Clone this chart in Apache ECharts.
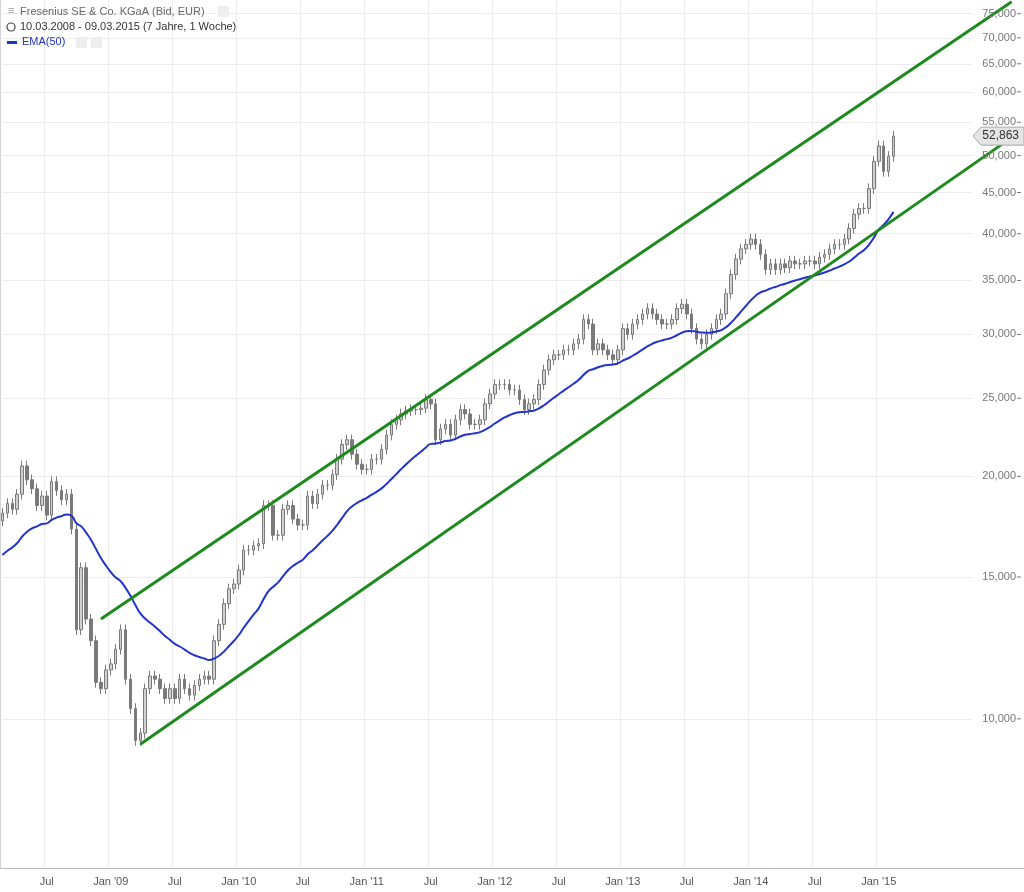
<!DOCTYPE html>
<html>
<head>
<meta charset="utf-8">
<script src="https://cdn.jsdelivr.net/npm/echarts@6/dist/echarts.min.js"></script>
<style>
html,body{margin:0;padding:0;background:#fff;}
#chart{width:1024px;height:892px;}
</style>
</head>
<body>
<div id="chart"></div>
<script>
// biweekly closes, starting 10.03.2008
var closes = [
	18.0,18.5,18.2,19.0,20.6,19.8,19.3,18.4,18.9,17.9,19.7,19.2,18.7,19.0,17.2,12.9,15.4,13.3,12.5,11.1,
	10.9,11.5,11.7,12.2,12.9,11.2,10.3,9.4,9.6,10.9,11.3,11.2,10.9,10.6,10.9,10.6,11.2,10.9,10.7,11.0,
	11.2,11.3,11.2,12.5,13.1,13.9,14.5,14.7,15.3,16.2,16.2,16.4,16.5,18.4,18.4,16.9,16.9,18.2,18.4,17.7,
	17.4,17.4,18.9,18.5,19.0,19.5,19.5,20.1,21.0,21.9,22.2,21.3,20.7,20.4,20.4,21.0,21.0,21.6,22.5,23.2,
	23.5,23.9,24.1,24.2,24.2,24.3,24.9,24.6,22.2,22.9,23.2,22.5,23.5,24.2,23.9,23.2,23.2,23.5,24.6,25.3,
	26.0,26.0,26.0,25.6,25.6,24.9,24.2,24.6,24.9,26.0,27.1,27.9,28.3,28.3,28.7,28.7,29.2,29.6,31.3,30.9,
	28.7,29.2,28.7,28.3,27.9,28.7,30.5,30.0,30.9,31.3,31.8,32.3,31.8,31.3,30.9,30.9,31.3,32.3,32.7,31.8,
	30.5,29.6,29.2,30.0,30.5,31.3,31.8,33.7,35.6,37.2,38.3,38.8,39.4,38.8,37.7,36.1,36.7,36.1,36.7,36.3,
	37.0,36.7,36.7,37.0,37.0,36.7,37.4,37.7,38.3,38.8,38.8,39.4,40.6,42.3,43.0,43.0,45.5,49.2,51.4,47.8,
	49.9,52.863
];
var firstOpen = 17.6;
var emaSeed = 15.8;
var emaPeriod = 25; // 50 weeks = 25 biweekly bars
var priceLevels = [10,15,20,25,30,35,40,45,50,55,60,65,70,75];
var upperChannel = [[20,13.3],[205,77.6]];
var lowerChannel = [[28,9.3],[207,53.7]];
var slotCount = 208;
var lastLabelSlot = 190;
var lastPrice = 52.863;

var startDate = new Date(2008, 2, 10);
var dates = [];
for (var i = 0; i < slotCount; i++) {
	dates.push(new Date(startDate.getTime() + i * 14 * 86400000));
}
// first slot of each Jan / Jul
var labelSlots = {};
for (var i = 1; i <= lastLabelSlot; i++) {
	var m = dates[i].getMonth(), pm = dates[i-1].getMonth();
	if ((m == 0 && pm == 11) || (m == 6 && pm == 5)) {
		labelSlots[i] = m == 0 ? "Jan '" + String(dates[i].getFullYear()).slice(2) : 'Jul';
	}
}
var cats = dates.map(function(d, i){ return String(i); });

var candles = [];
var ema = [];
var prev = firstOpen, e = emaSeed, k = 2 / (emaPeriod + 1);
for (var i = 0; i < closes.length; i++) {
	var o = prev, c = closes[i];
	candles.push([o, c, Math.min(o, c) * 0.985, Math.max(o, c) * 1.015]);
	e = c * k + e * (1 - k);
	ema.push(+e.toFixed(3));
	prev = c;
}

function fmt(v){ return v.toFixed(3).replace('.', ','); }

var gridLines = priceLevels.map(function(v){
	return [{coord:[0, v]}, {coord:[197, v]}];
});

var chart = echarts.init(document.getElementById('chart'));
var option = {
	animation:false,
	grid:{left:0, right:0, top:0, bottom:24},
	xAxis:{
		type:'category',
		data:cats,
		boundaryGap:true,
		axisLine:{show:true, lineStyle:{color:'#bbb'}},
		axisTick:{show:false},
		axisLabel:{
			interval:function(i){ return labelSlots[i] !== undefined; },
			formatter:function(v, i){ return labelSlots[i] || ''; },
			color:'#555', fontFamily:'Liberation Sans', fontSize:11, margin:8
		},
		splitLine:{show:true, interval:function(i){ return labelSlots[i] !== undefined; }, lineStyle:{color:'#ececec'}}
	},
	yAxis:{
		type:'log',
		min:6.53, max:78,
		axisLine:{show:false}, axisTick:{show:false}, axisLabel:{show:false}, splitLine:{show:false}
	},
	series:[
		{
			type:'line', data:[], silent:true, z:0,
			markLine:{silent:true, symbol:'none', label:{show:false}, z:0,
				lineStyle:{color:'#ebebeb', width:1, type:'solid'}, data:gridLines}
		},
		{
			type:'candlestick',
			data:candles, z:3,
			barWidth:3,
			itemStyle:{color:'#d0d0d0', color0:'#7a7a7a', borderColor:'#7a7a7a', borderColor0:'#7a7a7a', borderWidth:1}
		},
		{
			type:'line', data:ema, showSymbol:false, smooth:true, z:4,
			lineStyle:{color:'#2233cc', width:2}
		},
		{
			type:'line', data:[], silent:true, z:5,
			markLine:{silent:true, symbol:'none', label:{show:false},
				lineStyle:{color:'#1e8a1e', width:3, type:'solid'},
				data:[
					[{coord:upperChannel[0]}, {coord:upperChannel[1]}],
					[{coord:lowerChannel[0]}, {coord:lowerChannel[1]}]
				]}
		}
	]
};
chart.setOption(option);

// legend and price scale labels on the right, placed through the y scale
var graphics = [
	{type:'line', shape:{x1:0, y1:0, x2:0, y2:868}, style:{stroke:'#aaa', lineWidth:1}},
	{type:'text', left:20, top:6, z:100, style:{text:'Fresenius SE & Co. KGaA (Bid, EUR)', fill:'#666', font:'11px "Liberation Sans"'}},
	{type:'text', left:8, top:5, z:100, style:{text:'\u2261', fill:'#999', font:'11px "Liberation Sans"'}},
	{type:'circle', z:100, shape:{cx:11, cy:27, r:4}, style:{fill:'none', stroke:'#444', lineWidth:1.2}},
	{type:'text', left:20, top:21, z:100, style:{text:'10.03.2008 - 09.03.2015 (7 Jahre, 1 Woche)', fill:'#333', font:'11px "Liberation Sans"'}},
	{type:'rect', z:100, shape:{x:7, y:41, width:10, height:3}, style:{fill:'#2233cc'}},
	{type:'text', left:22, top:36, z:100, style:{text:'EMA(50)', fill:'#2233cc', font:'11px "Liberation Sans"'}},
	{type:'rect', z:100, shape:{x:218, y:6, width:11, height:11}, style:{fill:'#eee'}},
	{type:'rect', z:100, shape:{x:76, y:37, width:11, height:11}, style:{fill:'#eee'}},
	{type:'rect', z:100, shape:{x:91, y:37, width:11, height:11}, style:{fill:'#eee'}}
];
priceLevels.forEach(function(v){
	var y = chart.convertToPixel({yAxisIndex:0}, v);
	graphics.push({type:'text', x:1016, y:y, z:100, style:{text:fmt(v), fill:'#777', align:'right', verticalAlign:'middle', font:'11px "Liberation Sans"'}});
	graphics.push({type:'line', z:100, shape:{x1:1017, y1:y, x2:1021, y2:y}, style:{stroke:'#777', lineWidth:1}});
});
var py = chart.convertToPixel({yAxisIndex:0}, lastPrice);
graphics.push({type:'polygon', z:110, shape:{points:[[973,py],[981,py-9],[1024,py-9],[1024,py+9],[981,py+9]]}, style:{fill:'#e4e4e4', stroke:'#aaa'}});
graphics.push({type:'text', z:111, x:1019, y:py, style:{text:fmt(lastPrice), fill:'#333', align:'right', verticalAlign:'middle', font:'12px "Liberation Sans"'}});
chart.setOption({graphic:graphics});
</script>
</body>
</html>
